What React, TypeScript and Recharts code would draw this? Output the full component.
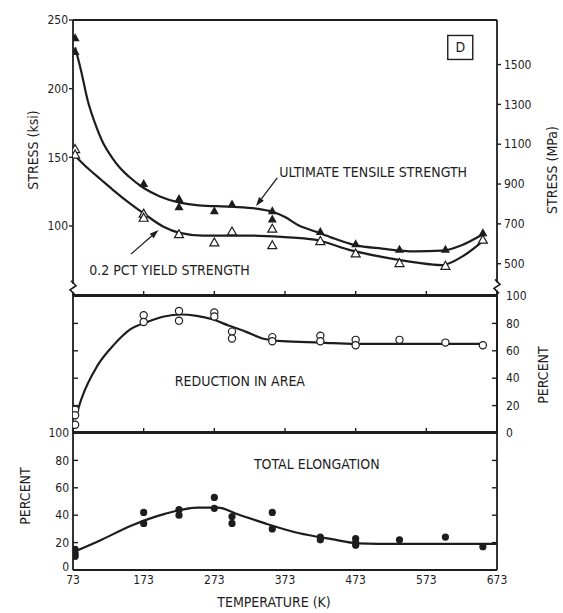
import React from 'react';
import {
  ComposedChart,
  Line,
  Scatter,
  XAxis,
  YAxis,
  ReferenceDot,
  ReferenceLine,
} from 'recharts';

const FONT = "'Liberation Sans Narrow', 'DejaVu Sans Condensed', 'Arial Narrow', sans-serif";
const INK = '#1d1d1d';
const W = 563;

// temperature axis (K)
const tempTicks = [73, 173, 273, 373, 473, 573, 673];
const tempDomain = [73, 673];

// stress axes
const ksiTicks = [100, 150, 200, 250];
const ksiDomain = [49, 250];
const mpaTicks = [500, 700, 900, 1100, 1300, 1500];
const MPA_PER_KSI = 6.895;

// percent axes
const pctTicks = [0, 20, 40, 60, 80, 100];

// ultimate tensile strength, measured (ksi)
const utsTemp = [76, 76, 173, 223, 223, 273, 298, 355, 355, 423, 473, 535, 600, 653];
const utsKsi = [237, 227, 131, 120, 114, 111, 116, 111, 105, 96, 87, 83, 83, 95];
// ultimate tensile strength, faired curve
const utsCurveTemp = [76, 84, 94, 104, 116, 128, 140, 152, 172, 196, 224, 251, 297, 335, 354, 373, 392, 416, 439, 472, 510, 557, 595, 623, 653];
const utsCurveKsi = [230, 214, 191, 175, 160, 150, 142, 136, 128, 121.5, 117, 115, 114, 112.5, 110.5, 106.5, 100.5, 96, 91.5, 86, 83.5, 81.5, 82, 86, 94];

// 0.2 pct yield strength, measured (ksi)
const ysTemp = [76, 76, 173, 173, 223, 273, 298, 355, 355, 423, 473, 535, 600, 653];
const ysKsi = [156, 152, 109, 106, 94, 88, 96, 98, 86, 89, 80, 73, 71, 90];
// yield strength, faired curve
const ysCurveTemp = [76, 94, 112, 129, 152, 172, 201, 224, 257, 321, 368, 415, 468, 510, 557, 595, 623, 653];
const ysCurveKsi = [151, 142, 134, 126.5, 117, 109.5, 99.5, 95, 93, 93, 92, 90, 82, 77.5, 73.5, 71.5, 77.5, 89];

// reduction in area (percent)
const raTemp = [76, 76, 76, 173, 173, 223, 223, 273, 273, 298, 298, 355, 355, 423, 423, 473, 473, 535, 600, 653];
const raPct = [17, 13, 6, 86, 81, 89, 82, 88, 85, 74, 69, 70, 67, 71, 67, 68, 64, 68, 66, 64];
const raCurveTemp = [76, 85, 108, 131, 155, 178, 202, 225, 248, 270, 293, 317, 341, 369, 423, 473, 535, 600, 653];
const raCurvePct = [10, 25, 49.5, 64.5, 76, 81, 85, 86.5, 85.5, 83, 78.5, 74, 69, 67, 66, 65, 65, 65, 65];

// total elongation (percent)
const elTemp = [76, 76, 76, 173, 173, 223, 223, 273, 273, 298, 298, 355, 355, 423, 423, 473, 473, 473, 535, 600, 653];
const elPct = [15, 12, 10, 42, 34, 44, 40, 53, 45, 39, 34, 42, 30, 24, 22, 23, 20, 18, 22, 24, 17];
const elCurveTemp = [73, 109, 156, 203, 250, 278, 307, 345, 392, 439, 476, 533, 600, 673];
const elCurvePct = [13, 21, 32.5, 41, 45.5, 45.5, 40.5, 34, 27, 22.5, 19.5, 19, 19, 19];

const pts = (t: number[], v: number[]) => t.map((x, i) => ({ t: x, v: v[i] }));

const tickText = { fontSize: 12, fill: INK, fontFamily: FONT };
const axisLine = { stroke: INK, strokeWidth: 1.8 };
const tickLine = { stroke: INK, strokeWidth: 1.4 };
const blank = () => '';

// left-hand tick: label outside, short tick pointing into the plot
const LeftTick = (p: any) => (
  <g>
    <text
      x={p.x}
      y={p.y}
      dy={p.payload.value === 0 ? '0.1em' : '0.35em'}
      textAnchor="end"
      fontFamily={FONT}
      fontSize={12}
      fill={INK}
    >
      {p.payload.value}
    </text>
    {p.payload.value > 0 && p.payload.value < 100 && (
      <line x1={p.x + 4} y1={p.y} x2={p.x + 9} y2={p.y} stroke={INK} strokeWidth={1.4} />
    )}
  </g>
);

// right border of a percent panel with inward ticks every 20 %
const RightBorder = (p: any) => {
  const { x1, y1, x2, y2 } = p;
  const marks = pctTicks.slice(1, -1).map((v) => y1 + ((y2 - y1) * v) / 100);
  return (
    <g>
      <line x1={x1} y1={y1} x2={x2} y2={y2} stroke={INK} strokeWidth={1.8} />
      {marks.map((y, i) => (
        <line key={i} x1={x1 - 5} y1={y} x2={x1} y2={y} stroke={INK} strokeWidth={1.4} />
      ))}
    </g>
  );
};

// marker shapes
const FilledTri = (p: any) => (
  <path d={`M${p.cx},${p.cy - 4.5} L${p.cx + 4.5},${p.cy + 3.5} L${p.cx - 4.5},${p.cy + 3.5} Z`} fill={INK} />
);
const OpenTri = (p: any) => (
  <path
    d={`M${p.cx},${p.cy - 4.5} L${p.cx + 4.5},${p.cy + 3.5} L${p.cx - 4.5},${p.cy + 3.5} Z`}
    fill="#fff"
    stroke={INK}
    strokeWidth={1.2}
  />
);
const OpenDot = (p: any) => <circle cx={p.cx} cy={p.cy} r={3.6} fill="#fff" stroke={INK} strokeWidth={1.2} />;
const FilledDot = (p: any) => <circle cx={p.cx} cy={p.cy} r={3.6} fill={INK} />;

const note = (text: string) => (p: any) => (
  <text x={p.cx} y={p.cy} dy="0.35em" fontFamily={FONT} fontSize={14} fill={INK}>
    {text}
  </text>
);

const BoxD = (p: any) => (
  <g>
    <rect x={p.cx - 12.5} y={p.cy - 12} width={25} height={24} fill="#fff" stroke={INK} strokeWidth={1.4} />
    <text x={p.cx} y={p.cy} dy="0.35em" textAnchor="middle" fontFamily={FONT} fontSize={14} fill={INK}>
      D
    </text>
  </g>
);

const BreakMark = (p: any) => (
  <g>
    <rect x={p.cx - 3} y={p.cy - 4} width={6} height={8} fill="#fff" />
    <path
      d={`M${p.cx - 2},${p.cy - 7} L${p.cx + 3},${p.cy - 2} L${p.cx - 3},${p.cy + 2} L${p.cx + 2},${p.cy + 7}`}
      fill="none"
      stroke={INK}
      strokeWidth={1.6}
    />
  </g>
);

const Arrow = (p: any) => {
  const { x1, y1, x2, y2 } = p;
  const a = Math.atan2(y2 - y1, x2 - x1);
  const bx = x2 - 9 * Math.cos(a);
  const by = y2 - 9 * Math.sin(a);
  const nx = -Math.sin(a) * 3;
  const ny = Math.cos(a) * 3;
  return (
    <g>
      <line x1={x1} y1={y1} x2={bx} y2={by} stroke={INK} strokeWidth={1.3} />
      <path d={`M${x2},${y2} L${bx + nx},${by + ny} L${bx - nx},${by - ny} Z`} fill={INK} />
    </g>
  );
};

const Title = ({ x, y, text, rotate }: { x: number; y: number; text: string; rotate?: boolean }) => (
  <div
    style={{
      position: 'absolute',
      left: x,
      top: y,
      transform: `translate(-50%, -50%)${rotate ? ' rotate(-90deg)' : ''}`,
      fontFamily: FONT,
      fontSize: 14,
      color: INK,
      whiteSpace: 'nowrap',
      lineHeight: 1,
    }}
  >
    {text}
  </div>
);

// temperature axes shared by the panels; the data axis carries the labels on the last panel
const tempAxes = (withLabels: boolean) => [
  <XAxis
    key="xt"
    xAxisId="xt"
    orientation="top"
    type="number"
    domain={tempDomain}
    ticks={tempTicks}
    mirror
    height={1}
    tickSize={5}
    tickFormatter={blank}
    axisLine={axisLine}
    tickLine={tickLine}
    allowDataOverflow
  />,
  withLabels ? (
    <XAxis
      key="xb"
      xAxisId="xb"
      dataKey="t"
      orientation="bottom"
      type="number"
      domain={tempDomain}
      ticks={tempTicks}
      height={30}
      tickSize={2}
      tickMargin={3}
      tickLine={false}
      axisLine={axisLine}
      tick={tickText}
      interval={0}
      allowDataOverflow
    />
  ) : (
    <XAxis
      key="xb"
      xAxisId="xb"
      dataKey="t"
      orientation="bottom"
      type="number"
      domain={tempDomain}
      ticks={tempTicks}
      mirror
      height={1}
      tickSize={5}
      tickFormatter={blank}
      axisLine={axisLine}
      tickLine={tickLine}
      allowDataOverflow
    />
  ),
  <XAxis
    key="xbm"
    xAxisId="xbm"
    orientation="bottom"
    type="number"
    domain={tempDomain}
    ticks={tempTicks}
    mirror
    height={1}
    tickSize={5}
    tickFormatter={blank}
    axisLine={axisLine}
    tickLine={tickLine}
    allowDataOverflow
  />,
];

export default function App() {
  return (
    <div style={{ position: 'absolute', left: 0, top: 0, width: W, height: 613, background: '#fff' }}>
      {/* total elongation panel */}
      <div style={{ position: 'absolute', left: 0, top: 420 }}>
        <ComposedChart width={W} height={193} margin={{ top: 13, right: 66, bottom: 13, left: 33 }}>
          {tempAxes(true)}
          <YAxis
            yAxisId="pl"
            dataKey="v"
            orientation="left"
            type="number"
            domain={[0, 100]}
            ticks={pctTicks}
            width={40}
            tickSize={0}
            tickMargin={4}
            tickLine={false}
            axisLine={axisLine}
            tick={LeftTick}
            allowDataOverflow
          />
          <Line
            xAxisId="xb"
            yAxisId="pl"
            data={pts(elCurveTemp, elCurvePct)}
            dataKey="v"
            type="monotone"
            stroke={INK}
            strokeWidth={2.2}
            dot={false}
            activeDot={false}
            isAnimationActive={false}
          />
          <Scatter xAxisId="xb" yAxisId="pl" data={pts(elTemp, elPct)} shape={FilledDot} isAnimationActive={false} />
          <ReferenceLine
            xAxisId="xb"
            yAxisId="pl"
            segment={[{ x: 673, y: 0 }, { x: 673, y: 100 }]}
            ifOverflow="visible"
            shape={RightBorder}
          />
          <ReferenceDot xAxisId="xb" yAxisId="pl" x={329} y={77} r={0} shape={note('TOTAL ELONGATION')} />
        </ComposedChart>
      </div>

      {/* reduction in area panel */}
      <div style={{ position: 'absolute', left: 0, top: 280 }}>
        <ComposedChart width={W} height={170} margin={{ top: 16, right: 26, bottom: 17, left: 73 }}>
          {tempAxes(false)}
          <YAxis
            yAxisId="pl"
            dataKey="v"
            orientation="left"
            type="number"
            domain={[0, 100]}
            ticks={pctTicks}
            mirror
            width={1}
            tickSize={5}
            tickFormatter={blank}
            axisLine={axisLine}
            tickLine={tickLine}
            allowDataOverflow
          />
          <YAxis
            yAxisId="pr"
            orientation="right"
            type="number"
            domain={[0, 100]}
            ticks={pctTicks}
            width={40}
            tickSize={2}
            tickMargin={7}
            tickLine={false}
            axisLine={axisLine}
            tick={tickText}
            allowDataOverflow
          />
          <Line
            xAxisId="xb"
            yAxisId="pl"
            data={pts(raCurveTemp, raCurvePct)}
            dataKey="v"
            type="monotone"
            stroke={INK}
            strokeWidth={2.2}
            dot={false}
            activeDot={false}
            isAnimationActive={false}
          />
          <Scatter xAxisId="xb" yAxisId="pl" data={pts(raTemp, raPct)} shape={OpenDot} isAnimationActive={false} />
          <ReferenceLine
            xAxisId="xb"
            yAxisId="pl"
            segment={[{ x: 673, y: 0 }, { x: 673, y: 100 }]}
            ifOverflow="visible"
            shape={RightBorder}
          />
          <ReferenceDot xAxisId="xb" yAxisId="pl" x={217} y={38} r={0} shape={note('REDUCTION IN AREA')} />
        </ComposedChart>
      </div>

      {/* stress panel */}
      <div style={{ position: 'absolute', left: 0, top: 0 }}>
        <ComposedChart width={W} height={300} margin={{ top: 20, right: 18, bottom: 4, left: 18 }}>
          {tempAxes(false)}
          <YAxis
            yAxisId="ksi"
            dataKey="v"
            orientation="left"
            type="number"
            domain={ksiDomain}
            ticks={ksiTicks}
            width={55}
            tickSize={4}
            tickMargin={1}
            axisLine={axisLine}
            tickLine={tickLine}
            tick={tickText}
            allowDataOverflow
          />
          <YAxis
            yAxisId="mpa"
            orientation="right"
            type="number"
            domain={[ksiDomain[0] * MPA_PER_KSI, ksiDomain[1] * MPA_PER_KSI]}
            ticks={mpaTicks}
            width={48}
            tickSize={4}
            tickMargin={3}
            axisLine={axisLine}
            tickLine={tickLine}
            tick={tickText}
            allowDataOverflow
          />
          <Line
            xAxisId="xb"
            yAxisId="ksi"
            data={pts(utsCurveTemp, utsCurveKsi)}
            dataKey="v"
            type="monotone"
            stroke={INK}
            strokeWidth={2.2}
            dot={false}
            activeDot={false}
            isAnimationActive={false}
          />
          <Line
            xAxisId="xb"
            yAxisId="ksi"
            data={pts(ysCurveTemp, ysCurveKsi)}
            dataKey="v"
            type="monotone"
            stroke={INK}
            strokeWidth={2.2}
            dot={false}
            activeDot={false}
            isAnimationActive={false}
          />
          <Scatter xAxisId="xb" yAxisId="ksi" data={pts(utsTemp, utsKsi)} shape={FilledTri} isAnimationActive={false} />
          <Scatter xAxisId="xb" yAxisId="ksi" data={pts(ysTemp, ysKsi)} shape={OpenTri} isAnimationActive={false} />
          <ReferenceLine
            xAxisId="xb"
            yAxisId="ksi"
            segment={[{ x: 362, y: 135 }, { x: 332, y: 114.5 }]}
            shape={Arrow}
          />
          <ReferenceLine
            xAxisId="xb"
            yAxisId="ksi"
            segment={[{ x: 155, y: 79.5 }, { x: 194, y: 97 }]}
            shape={Arrow}
          />
          <ReferenceDot xAxisId="xb" yAxisId="ksi" x={365} y={139} r={0} shape={note('ULTIMATE TENSILE STRENGTH')} />
          <ReferenceDot xAxisId="xb" yAxisId="ksi" x={96} y={68} r={0} shape={note('0.2 PCT YIELD STRENGTH')} />
          <ReferenceDot xAxisId="xb" yAxisId="ksi" x={621} y={230} r={0} shape={BoxD} />
          <ReferenceDot xAxisId="xb" yAxisId="ksi" x={73} y={55} r={0} ifOverflow="visible" shape={BreakMark} />
          <ReferenceDot xAxisId="xb" yAxisId="ksi" x={673} y={56} r={0} ifOverflow="visible" shape={BreakMark} />
        </ComposedChart>
      </div>

      <Title x={33} y={150} text="STRESS (ksi)" rotate />
      <Title x={552} y={170} text="STRESS (MPa)" rotate />
      <Title x={543} y={375} text="PERCENT" rotate />
      <Title x={25} y={496} text="PERCENT" rotate />
      <Title x={274} y={602} text="TEMPERATURE (K)" />
    </div>
  );
}
